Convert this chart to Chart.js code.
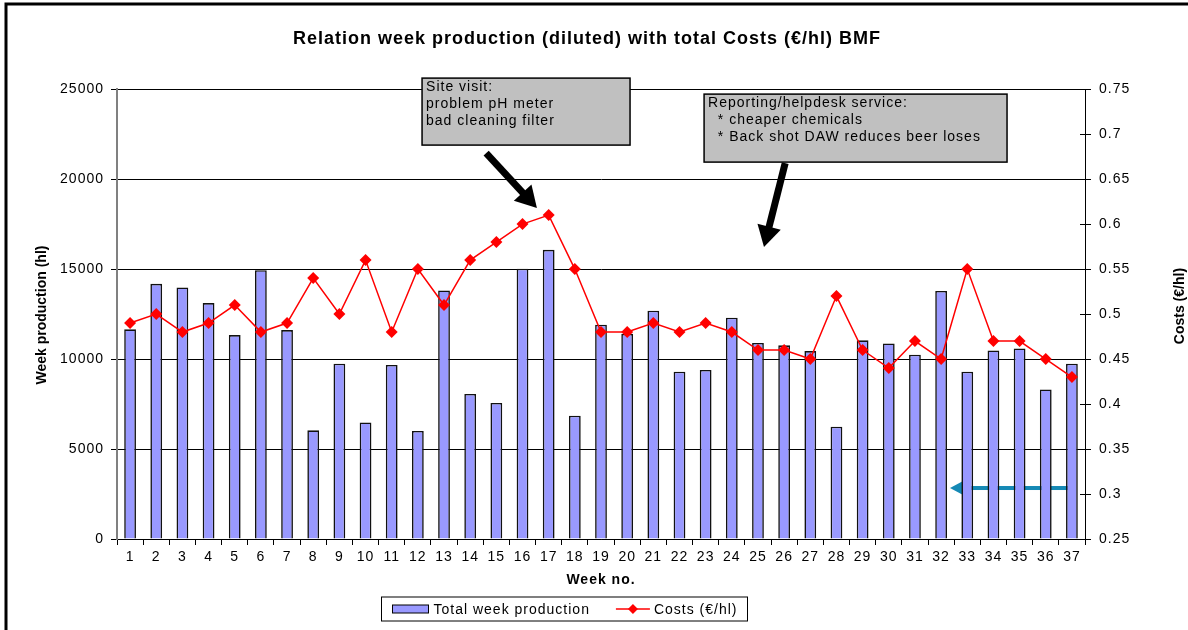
<!DOCTYPE html>
<html>
<head>
<meta charset="utf-8">
<title>Relation week production with total costs</title>
<script src="https://cdn.jsdelivr.net/npm/chart.js@4.4.1/dist/chart.umd.min.js"></script>
<style>
  body { margin: 0; background: #fff; }
  #wrap { width: 1188px; height: 630px; }
</style>
</head>
<body>
<div id="wrap"><canvas id="barChart"></canvas></div>
<script>
// data
const weeks = ["1","2","3","4","5","6","7","8","9","10","11","12","13","14","15","16","17","18","19",
  "20","21","22","23","24","25","26","27","28","29","30","31","32","33","34","35","36","37"];
const production = [11650, 14180, 13980, 13110, 11330, 14940, 11610, 6040, 9740, 6480, 9670, 6000,
  13810, 8060, 7560, 15020, 16070, 6850, 11910, 11400, 12690, 9300, 9390, 12300, 10890, 10760,
  10440, 6240, 11040, 10870, 10240, 13780, 9300, 10480, 10590, 8310, 9740];
const costs = [0.49, 0.50, 0.48, 0.49, 0.51, 0.48, 0.49, 0.54, 0.50, 0.56, 0.48, 0.55, 0.51, 0.56,
  0.58, 0.60, 0.61, 0.55, 0.48, 0.48, 0.49, 0.48, 0.49, 0.48, 0.46, 0.46, 0.45, 0.52, 0.46, 0.44,
  0.47, 0.45, 0.55, 0.47, 0.47, 0.45, 0.43];

const siteVisitText = ["Site visit:", "problem pH meter", "bad cleaning filter"];
const helpdeskText = ["Reporting/helpdesk service:", "  * cheaper chemicals", "  * Back shot DAW reduces beer loses"];

const FONT = "'Liberation Sans', Arial, Helvetica, sans-serif";
Chart.defaults.font.family = FONT;
Chart.defaults.font.size = 14;
Chart.defaults.color = "#000";

// callouts placed in data space (category index, left-axis value)
const boxes = [
  { text: siteVisitText, x1: 11.16, x2: 19.11, yTop: 25611, yBot: 21889 },
  { text: helpdeskText, x1: 21.94, x2: 33.52, yTop: 24722, yBot: 20944 }
];
const blackArrows = [
  { from: [13.61, 21444], to: [15.55, 18389] },
  { from: [25.04, 20889], to: [24.23, 16222] }
];
const tealArrow = { from: [35.93, 2833], to: [31.34, 2833] };

function drawArrow(ctx, x1, y1, x2, y2, w, headLen, headW, color) {
  const ang = Math.atan2(y2 - y1, x2 - x1);
  const len = Math.hypot(x2 - x1, y2 - y1);
  ctx.save();
  ctx.translate(x1, y1);
  ctx.rotate(ang);
  ctx.fillStyle = color;
  ctx.fillRect(0, -w / 2, len - headLen + 1, w);
  ctx.beginPath();
  ctx.moveTo(len, 0);
  ctx.lineTo(len - headLen, -headW);
  ctx.lineTo(len - headLen, headW);
  ctx.closePath();
  ctx.fill();
  ctx.restore();
}

function vText(ctx, text, cx, cy) {
  ctx.save();
  ctx.letterSpacing = "0px";
  ctx.translate(cx, cy);
  ctx.rotate(-Math.PI / 2);
  ctx.font = "bold 14px " + FONT;
  ctx.textAlign = "center";
  ctx.textBaseline = "middle";
  ctx.fillStyle = "#000";
  ctx.fillText(text, 0, 0);
  ctx.restore();
}

// the source picture has text slightly wider than plain Arial
const wideText = {
  id: "wideText",
  beforeUpdate(chart) { chart.ctx.letterSpacing = "1px"; },
  beforeDraw(chart) { chart.ctx.letterSpacing = "1px"; }
};

const overlay = {
  id: "overlay",
  beforeDatasetsDraw(chart) {
    const { ctx, scales: { x, y } } = chart;
    drawArrow(ctx, x.getPixelForValue(tealArrow.from[0]), y.getPixelForValue(tealArrow.from[1]),
      x.getPixelForValue(tealArrow.to[0]), y.getPixelForValue(tealArrow.to[1]), 4, 15, 8, "#1589b5");
  },
  afterDraw(chart) {
    const { ctx, chartArea, scales: { x, y, y1 } } = chart;
    ctx.save();

    // inner half of the right axis ticks
    ctx.strokeStyle = "#000";
    ctx.lineWidth = 1;
    y1.ticks.forEach((t, i) => {
      const py = Math.round(y1.getPixelForTick(i)) + 0.5;
      ctx.beginPath();
      ctx.moveTo(chartArea.right - 5, py);
      ctx.lineTo(chartArea.right, py);
      ctx.stroke();
    });

    // axis titles (vertical)
    const midY = (chartArea.top + chartArea.bottom) / 2;
    vText(ctx, "Week production (hl)", 42, midY + 1);
    vText(ctx, "Costs (€/hl)", 1180, midY - 8);

    // callout boxes
    boxes.forEach(b => {
      const left = x.getPixelForValue(b.x1), right = x.getPixelForValue(b.x2);
      const top = y.getPixelForValue(b.yTop), bot = y.getPixelForValue(b.yBot);
      ctx.fillStyle = "#c0c0c0";
      ctx.fillRect(left, top, right - left, bot - top);
      ctx.strokeStyle = "#000";
      ctx.lineWidth = 1.5;
      ctx.strokeRect(left, top, right - left, bot - top);
      ctx.fillStyle = "#000";
      ctx.font = "14px " + FONT;
      ctx.textAlign = "left";
      ctx.textBaseline = "middle";
      b.text.forEach((line, i) => ctx.fillText(line, left + 4, top + 9 + i * 17));
    });

    blackArrows.forEach(a => {
      drawArrow(ctx, x.getPixelForValue(a.from[0]), y.getPixelForValue(a.from[1]),
        x.getPixelForValue(a.to[0]), y.getPixelForValue(a.to[1]), 7, 21, 12, "#000");
    });

    // legend
    ctx.font = "14px " + FONT;
    ctx.textAlign = "left";
    const t1 = "Total week production", t2 = "Costs (€/hl)";
    const w1 = ctx.measureText(t1).width, w2 = ctx.measureText(t2).width;
    const legW = 11 + 36 + 5 + w1 + 26 + 34 + 4 + w2 + 10;
    const cx = 564, cy = 609;
    let lx = Math.round(cx - legW / 2) + 0.5;
    ctx.strokeStyle = "#000";
    ctx.lineWidth = 1;
    ctx.strokeRect(lx, cy - 12, Math.round(legW), 24);
    let px = lx + 11;
    ctx.fillStyle = "#9999ff";
    ctx.fillRect(px, cy - 4, 36, 8);
    ctx.strokeRect(px, cy - 4, 36, 8);
    px += 41;
    ctx.fillStyle = "#000";
    ctx.textBaseline = "middle";
    ctx.fillText(t1, px, cy + 1);
    px += w1 + 26;
    ctx.strokeStyle = "#ff0000";
    ctx.lineWidth = 1.5;
    ctx.beginPath();
    ctx.moveTo(px, cy);
    ctx.lineTo(px + 34, cy);
    ctx.stroke();
    ctx.fillStyle = "#ff0000";
    ctx.beginPath();
    ctx.moveTo(px + 17, cy - 5);
    ctx.lineTo(px + 22, cy);
    ctx.lineTo(px + 17, cy + 5);
    ctx.lineTo(px + 12, cy);
    ctx.closePath();
    ctx.fill();
    px += 38;
    ctx.fillStyle = "#000";
    ctx.fillText(t2, px, cy + 1);

    // frame of the figure
    ctx.strokeStyle = "#000";
    ctx.lineWidth = 3;
    ctx.beginPath();
    ctx.moveTo(6, 630);
    ctx.lineTo(6, 4);
    ctx.lineTo(1188, 4);
    ctx.stroke();
    ctx.restore();
  }
};

let ctxb = document.getElementById("barChart").getContext("2d");
let myChart = new Chart(ctxb, {
  type: "bar",
  data: {
    labels: weeks,
    datasets: [
      {
        type: "line",
        label: "Costs (€/hl)",
        data: costs,
        yAxisID: "y1",
        borderColor: "#ff0000",
        backgroundColor: "#ff0000",
        borderWidth: 1.5,
        pointStyle: "rectRot",
        pointRadius: 6,
        pointBorderWidth: 0,
        pointBackgroundColor: "#ff0000",
        tension: 0,
        order: 0
      },
      {
        label: "Total week production",
        data: production,
        yAxisID: "y",
        backgroundColor: "#9999ff",
        borderColor: "#111",
        borderWidth: 1.6,
        barPercentage: 0.45,
        categoryPercentage: 1,
        order: 1
      }
    ]
  },
  options: {
    responsive: true,
    maintainAspectRatio: false,
    animation: false,
    layout: { padding: { left: 34, right: 48, top: 0, bottom: 41 } },
    plugins: {
      legend: { display: false },
      tooltip: { enabled: false },
      title: {
        display: true,
        text: "Relation week production (diluted) with total Costs (€/hl) BMF",
        font: { size: 18, weight: "bold" },
        color: "#000",
        padding: { top: 28, bottom: 39.5 }
      }
    },
    scales: {
      x: {
        offset: true,
        grid: { display: true, drawOnChartArea: false, offset: true, tickLength: 6, color: "#000" },
        border: { color: "#000", width: 1 },
        ticks: { padding: 4, maxRotation: 0, autoSkip: false },
        title: { display: true, text: "Week no.", font: { size: 14, weight: "bold" }, padding: 0 },
        afterFit(scale) { scale.height = 50; }
      },
      y: {
        position: "left",
        min: 0,
        max: 25000,
        ticks: { stepSize: 5000, padding: 7, callback: v => String(v) },
        grid: { color: "#000", tickLength: 6 },
        border: { color: "#808080", width: 2 },
        afterFit(scale) { scale.width = 83; }
      },
      y1: {
        position: "right",
        min: 0.25,
        max: 0.75,
        ticks: {
          stepSize: 0.05,
          padding: 8,
          callback: v => String(Number(v.toFixed(2)))
        },
        grid: { drawOnChartArea: false, color: "#000", tickLength: 6 },
        border: { color: "#000", width: 1 },
        afterFit(scale) { scale.width = 55; }
      }
    }
  },
  plugins: [wideText, overlay]
});
</script>
</body>
</html>
